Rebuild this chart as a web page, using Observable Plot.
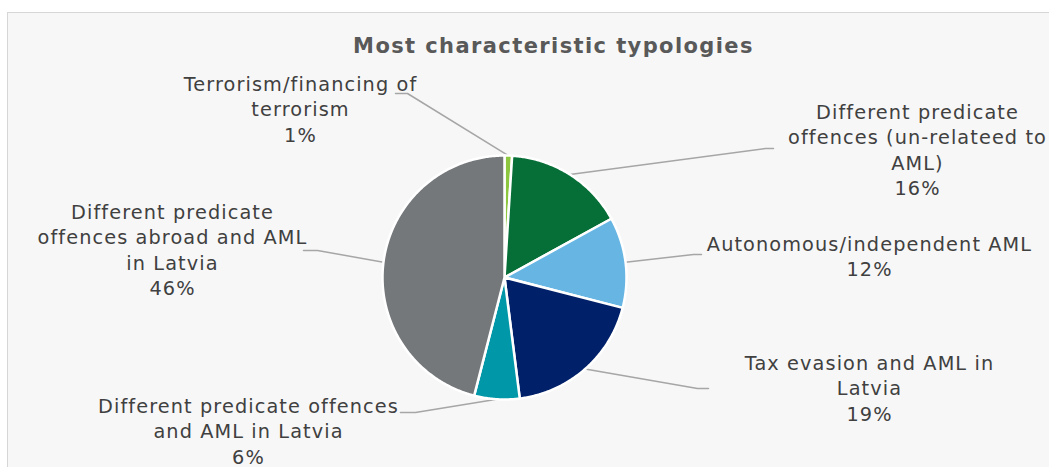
<!DOCTYPE html>
<html><head><meta charset="utf-8">
<script src="https://cdn.jsdelivr.net/npm/d3@7"></script>
<script src="https://cdn.jsdelivr.net/npm/@observablehq/plot@0.6"></script>
<style>
body{margin:0;background:#fff;width:1049px;height:467px;overflow:hidden;position:relative;font-family:"DejaVu Sans",Verdana,sans-serif}
#frame{position:absolute;left:7px;top:12px;width:1060px;height:470px;background:#f7f7f7;border-left:1.5px solid #d6d6d6;border-top:1.5px solid #d6d6d6}
#chart{position:absolute;left:0;top:0}
#chart svg{background:transparent}
#chart g.lbl text{letter-spacing:1.1px}
#chart g.ttl text{letter-spacing:1.4px}
</style></head><body><div id="frame"></div><div id="chart"></div>
<script>
// ---- data ----
const title = "Most characteristic typologies";
const categories = [
  "Terrorism/financing of terrorism",
  "Different predicate offences (un-relateed to AML)",
  "Autonomous/independent AML",
  "Tax evasion and AML in Latvia",
  "Different predicate offences and AML in Latvia",
  "Different predicate offences abroad and AML in Latvia"
];
const values = [1, 16, 12, 19, 6, 46];
const labelTexts = [
  "Terrorism/financing of\nterrorism",
  "Different predicate\noffences (un-relateed to\nAML)",
  "Autonomous/independent AML",
  "Tax evasion and AML in\nLatvia",
  "Different predicate offences\nand AML in Latvia",
  "Different predicate\noffences abroad and AML\nin Latvia"
];
const colors = ["#8dc63f", "#066e37", "#66b5e3", "#002169", "#0098a8", "#75787b"];

// ---- layout (pixels) ----
const W = 1049, H = 467;
const cx = 504, cy = 277, R = 122;
const labelPos = [[300, 107.5], [917, 148.5], [869, 255], [869, 386.5], [248, 429.5], [172, 248.5]];
const elbows = [[407, 93], [765, 148], [693, 254], [697, 388], [415, 412], [317, 250]];
const ends = [[395, 93], [773, 148], [701, 254], [708, 388], [400, 412], [303, 250]];

const arcs = d3.pie().sort(null).value(d => d)(values);
const pt = (a, r) => ({x: cx + r * Math.sin(a), y: cy - r * Math.cos(a)});

const sliceMarks = arcs.map((a, i) => {
  const n = Math.max(2, Math.ceil((a.endAngle - a.startAngle) / 0.01));
  const pts = [{x: cx, y: cy}];
  for (let k = 0; k <= n; k++) pts.push(pt(a.startAngle + (a.endAngle - a.startAngle) * k / n, R));
  pts.push({x: cx, y: cy});
  return Plot.line(pts, {x: "x", y: "y", fill: colors[i], stroke: "#ffffff", strokeWidth: 2.5, strokeLinejoin: "round"});
});

const leaderMarks = arcs.map((a, i) => {
  const m = pt((a.startAngle + a.endAngle) / 2, R);
  const pts = [m, {x: elbows[i][0], y: elbows[i][1]}, {x: ends[i][0], y: ends[i][1]}];
  return Plot.line(pts, {x: "x", y: "y", stroke: "#a6a6a6", strokeWidth: 1.5});
});

const labels = categories.map((c, i) => ({
  text: labelTexts[i] + "\n" + values[i] + "%",
  x: labelPos[i][0], y: labelPos[i][1]
}));

const chart = Plot.plot({
  width: W, height: H,
  margin: 0,
  style: {background: "transparent", fontFamily: "'DejaVu Sans', Verdana, sans-serif"},
  x: {domain: [0, W], range: [0, W], axis: null},
  y: {domain: [0, H], range: [0, H], axis: null},
  marks: [
    ...leaderMarks,
    ...sliceMarks,
    Plot.text(labels, {x: "x", y: "y", text: "text", fontSize: 19.3, lineHeight: 1.32, fill: "#404040", lineAnchor: "middle", className: "lbl"}),
    Plot.text([title], {x: () => 553, y: () => 46, text: d => d, fontSize: 21, fontWeight: "bold", fill: "#595959", className: "ttl"})
  ]
});
document.getElementById("chart").append(chart);
</script></body></html>
